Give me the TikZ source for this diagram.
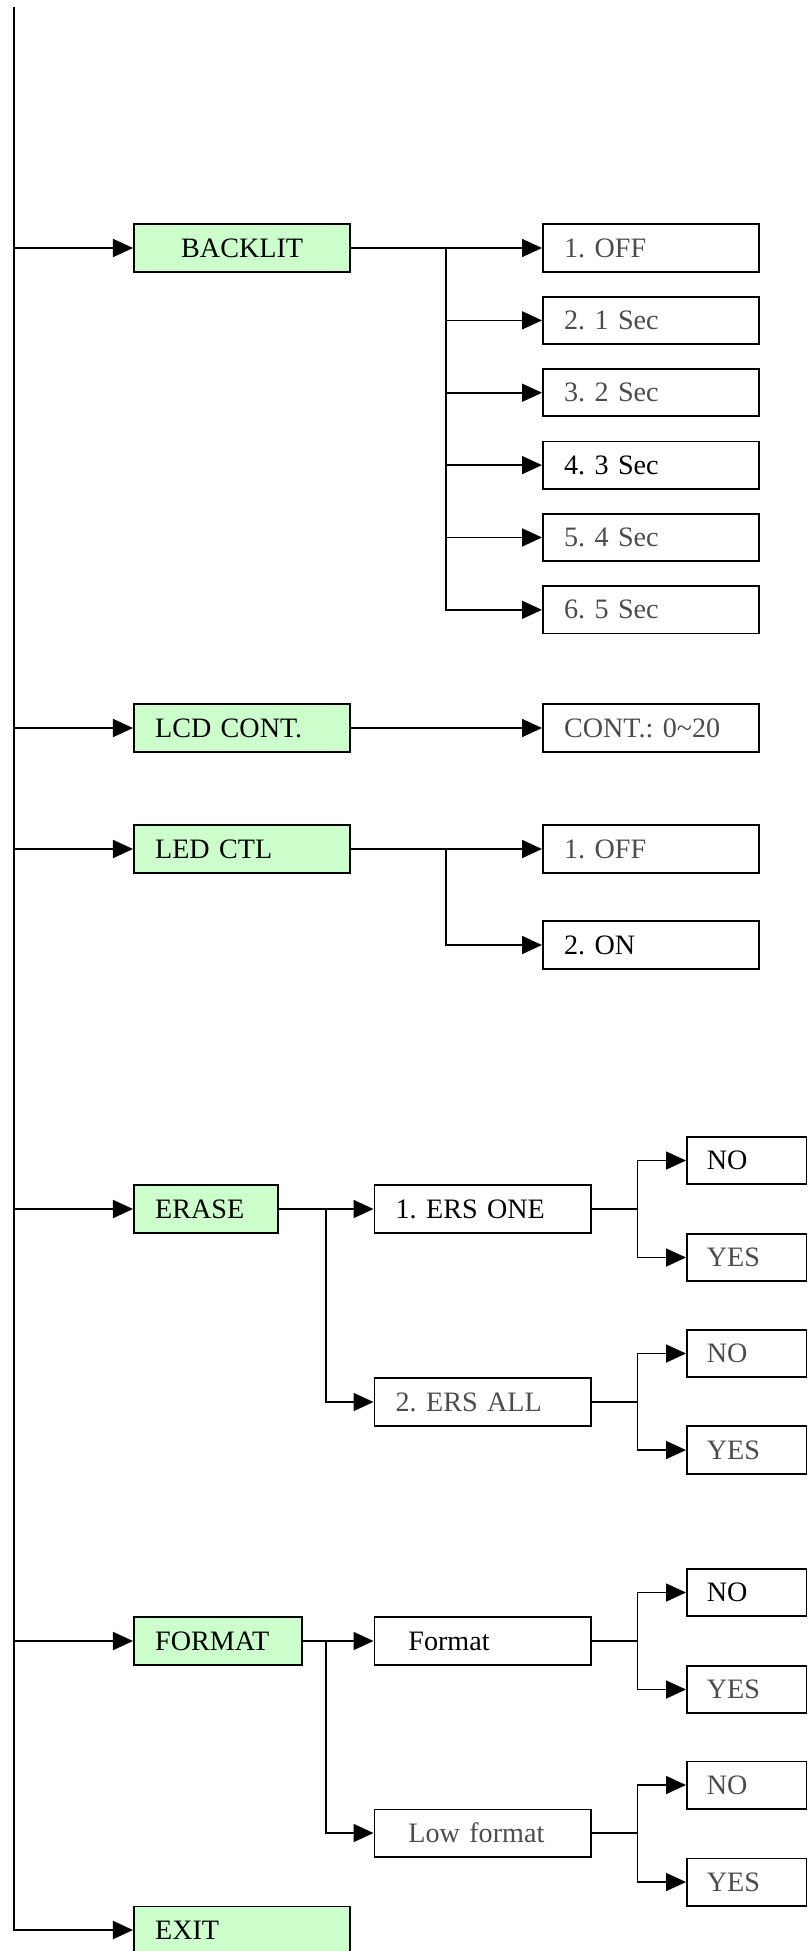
\documentclass[tikz,border=0pt]{standalone}
\usepackage{fontspec}
\setmainfont{Liberation Serif}
\usepackage{tikz}
\usetikzlibrary{arrows.meta,positioning}
\definecolor{menugreen}{RGB}{204,255,204}
\frenchspacing

\begin{document}
\begin{tikzpicture}[x=0.025cm,y=-0.025cm,node distance=0.583cm]
  \tikzset{box/.style={draw,line width=1.3pt,anchor=west,minimum height=1.18cm,inner ysep=0pt,inner xsep=0.53cm,text width=#1,align=left,font=\fontsize{20}{24}\selectfont},
    box/.default=4.35cm,
    menu/.style={box=#1,fill=menugreen},
    menu/.default=4.35cm,
    choice/.style={box=1.99cm,inner xsep=0.5cm},
    dim/.style={text=black!70},
    ln/.style={line width=1.2pt},
    arr/.style={ln,-{Triangle[length=0.5cm,width=0.45cm]}}}
  \useasboundingbox (0,0) rectangle (808,1951);
  % main menu
  \node[menu,align=center] (backlit) at (133,248) {BACKLIT};
  \node[menu] (lcd) at (133,728) {LCD CONT.};
  \node[menu] (led) at (133,849) {LED CTL};
  \node[menu=2.55cm] (erase) at (133,1209) {ERASE};
  \node[menu=3.14cm] (format) at (133,1641) {FORMAT};
  \node[menu] (exit) at (133,1930) {EXIT};
  % backlit
  \node[box,dim] (bk1) at (542,248) {1. OFF};
  \node[box,dim,below=of bk1] (bk2) {2. 1 Sec};
  \node[box,dim,below=of bk2] (bk3) {3. 2 Sec};
  \node[box,below=of bk3] (bk4) {4. 3 Sec};
  \node[box,dim,below=of bk4] (bk5) {5. 4 Sec};
  \node[box,dim,below=of bk5] (bk6) {6. 5 Sec};
  % lcd, led
  \node[box,dim] (cont) at (542,728) {CONT.: 0\textasciitilde20};
  \node[box,dim] (led1) at (542,849) {1. OFF};
  \node[box] (led2) at (542,945) {2. ON};
  % erase
  \node[box] (ers1) at (373.5,1209) {1. ERS ONE};
  \node[box,dim] (ers2) at (373.5,1402) {2. ERS ALL};
  \node[choice] (e1no) at (686,1160.5) {NO};
  \node[choice,dim] (e1yes) at (686,1257.5) {YES};
  \node[choice,dim] (e2no) at (686,1353.5) {NO};
  \node[choice,dim] (e2yes) at (686,1450) {YES};
  % format
  \node[box=3.715cm,inner xsep=0.85cm] (fmt1) at (373.5,1641) {Format};
  \node[box=3.715cm,inner xsep=0.85cm,dim] (fmt2) at (373.5,1833) {Low format};
  \node[choice] (f1no) at (686,1592.5) {NO};
  \node[choice,dim] (f1yes) at (686,1689.5) {YES};
  \node[choice,dim] (f2no) at (686,1785) {NO};
  \node[choice,dim] (f2yes) at (686,1882) {YES};
  % connectors
  \coordinate (mtop) at (13.7,7);
  \draw[arr] (mtop) |- (exit.west);
  \foreach \n in {backlit,lcd,led,erase,format}
    \draw[arr] (mtop |- \n.west) -- (\n.west);
  \coordinate (bkfork) at (445.7,248);
  \draw[arr] (backlit.east) -- (bk1.west);
  \foreach \n in {bk2,bk3,bk4,bk5,bk6}
    \draw[arr] (bkfork) |- (\n.west);
  \draw[arr] (lcd.east) -- (cont.west);
  \coordinate (ledfork) at (445.7,849);
  \draw[arr] (led.east) -- (led1.west);
  \draw[arr] (ledfork) |- (led2.west);
  \coordinate (erfork) at (326.2,1209);
  \draw[arr] (erase.east) -- (ers1.west);
  \draw[arr] (erfork) |- (ers2.west);
  \coordinate (fmfork) at (326.2,1641);
  \draw[arr] (format.east) -- (fmt1.west);
  \draw[arr] (fmfork) |- (fmt2.west);
  % yes/no forks
  \foreach \p/\a/\b in {ers1/e1no/e1yes,ers2/e2no/e2yes,fmt1/f1no/f1yes,fmt2/f2no/f2yes}{
    \coordinate (\p fork) at (637.4,0 |- \p.east);
    \draw[ln] (\p.east) -- (\p fork);
    \draw[arr] (\p fork) |- (\a.west);
    \draw[arr] (\p fork) |- (\b.west);
  }
\end{tikzpicture}
\end{document}
